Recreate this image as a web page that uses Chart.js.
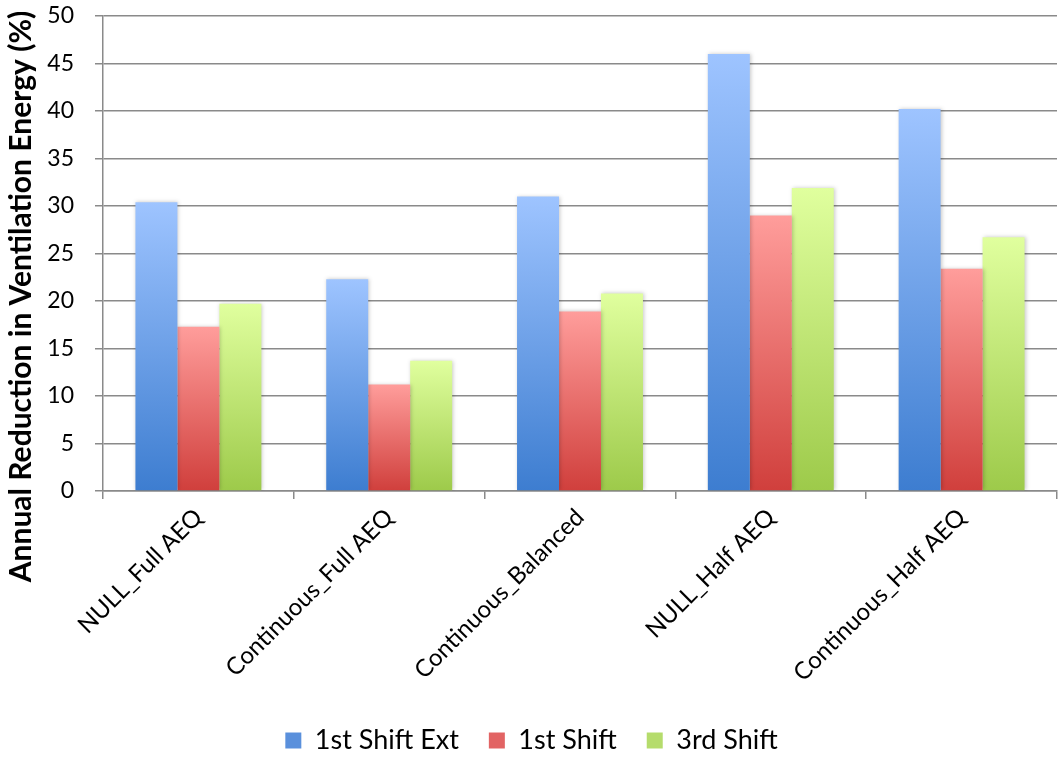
<!DOCTYPE html>
<html>
<head>
<meta charset="utf-8">
<script src="https://cdn.jsdelivr.net/npm/chart.js@4"></script>
<style>
  html, body { margin: 0; padding: 0; background: #ffffff; }
  #wrap { width: 1061px; height: 759px; }
</style>
</head>
<body>
<div id="wrap"><canvas id="c" width="1061" height="759"></canvas></div>
<script>
const categories = ["NULL_Full AEQ", "Continuous_Full AEQ", "Continuous_Balanced", "NULL_Half AEQ", "Continuous_Half AEQ"];
const firstShiftExt = [30.4, 22.3, 31.0, 46.0, 40.2];
const firstShift = [17.3, 11.2, 18.9, 29.0, 23.4];
const thirdShift = [19.7, 13.7, 20.8, 31.9, 26.7];
const seriesNames = ["1st Shift Ext", "1st Shift", "3rd Shift"];
const yTitle = "Annual Reduction in Ventilation Energy (%)";

const FONT = "Lato, 'Open Sans', 'Liberation Sans', sans-serif";

// each bar gets its own vertical gradient: light at its top, saturated at its base
function gradientFill(top, bottom) {
  return function (ctx) {
    const chart = ctx.chart;
    const yScale = chart.scales && chart.scales.y;
    if (!chart.chartArea || !yScale || ctx.type !== "data") return bottom;
    const yTop = yScale.getPixelForValue(ctx.parsed.y);
    const yBase = yScale.getPixelForValue(0);
    const g = chart.ctx.createLinearGradient(0, yTop, 0, yBase);
    g.addColorStop(0, top);
    g.addColorStop(1, bottom);
    return g;
  };
}

const legendSwatch = ["#5a90dc", "#e26464", "#b5dc6c"];

// soft drop shadow behind the bars
const barShadow = {
  id: "barShadow",
  beforeDatasetsDraw(chart) {
    const c = chart.ctx;
    c.save();
    c.shadowColor = "rgba(0,0,0,0.22)";
    c.shadowBlur = 4;
    c.shadowOffsetX = 1;
    c.shadowOffsetY = 0;
  },
  afterDatasetsDraw(chart) {
    chart.ctx.restore();
  }
};

// vertical axis title, set along the left edge and centred a little below the plot's middle
const sideTitle = {
  id: "sideTitle",
  afterDraw(chart) {
    const c = chart.ctx;
    const area = chart.chartArea;
    c.save();
    c.translate(21, (area.top + area.bottom) / 2 + 43);
    c.rotate(-Math.PI / 2);
    c.font = "bold 30px " + FONT;
    c.fillStyle = "#000";
    c.textAlign = "center";
    c.textBaseline = "middle";
    c.fillText(yTitle, 0, 0);
    c.restore();
  }
};

new Chart(document.getElementById("c"), {
  type: "bar",
  data: {
    labels: categories,
    datasets: [
      { label: seriesNames[0], data: firstShiftExt, backgroundColor: gradientFill("#9ec4ff", "#3d7dd0") },
      { label: seriesNames[1], data: firstShift, backgroundColor: gradientFill("#ff9d9b", "#d03f3c") },
      { label: seriesNames[2], data: thirdShift, backgroundColor: gradientFill("#e0ff9e", "#9dca4a") }
    ]
  },
  plugins: [barShadow, sideTitle],
  options: {
    responsive: false,
    animation: false,
    layout: { padding: { top: 0, right: 4, left: 6, bottom: -5 } },
    datasets: {
      bar: { categoryPercentage: 0.66, barPercentage: 1.0, borderWidth: 0 }
    },
    plugins: {
      tooltip: { enabled: false },
      legend: {
        position: "bottom",
        labels: {
          font: { family: FONT, size: 27 },
          color: "#000",
          boxWidth: 16,
          boxHeight: 16,
          padding: 30,
          generateLabels(chart) {
            return chart.data.datasets.map((d, i) => ({
              text: d.label,
              fillStyle: legendSwatch[i],
              strokeStyle: legendSwatch[i],
              lineWidth: 0,
              datasetIndex: i
            }));
          }
        }
      }
    },
    scales: {
      x: {
        grid: { offset: true, drawOnChartArea: false, drawTicks: true, tickLength: 8, color: "#8a8a8a", lineWidth: 1.5 },
        border: { color: "#8a8a8a", width: 1.5 },
        ticks: {
          font: { family: FONT, size: 24 },
          color: "#000",
          minRotation: 45,
          maxRotation: 45,
          padding: 4
        },
        afterFit(scale) { scale.height = 206; }
      },
      y: {
        min: 0,
        max: 50,
        grid: { color: "#8a8a8a", lineWidth: 1.5, tickLength: 8 },
        border: { color: "#8a8a8a", width: 1.5 },
        ticks: {
          stepSize: 5,
          font: { family: FONT, size: 23 },
          color: "#000",
          padding: 21
        },
        afterFit(scale) {
          scale.width = 97;
          scale.paddingTop = 16;
          scale.paddingBottom = 0;
        }
      }
    }
  }
});
</script>
</body>
</html>
